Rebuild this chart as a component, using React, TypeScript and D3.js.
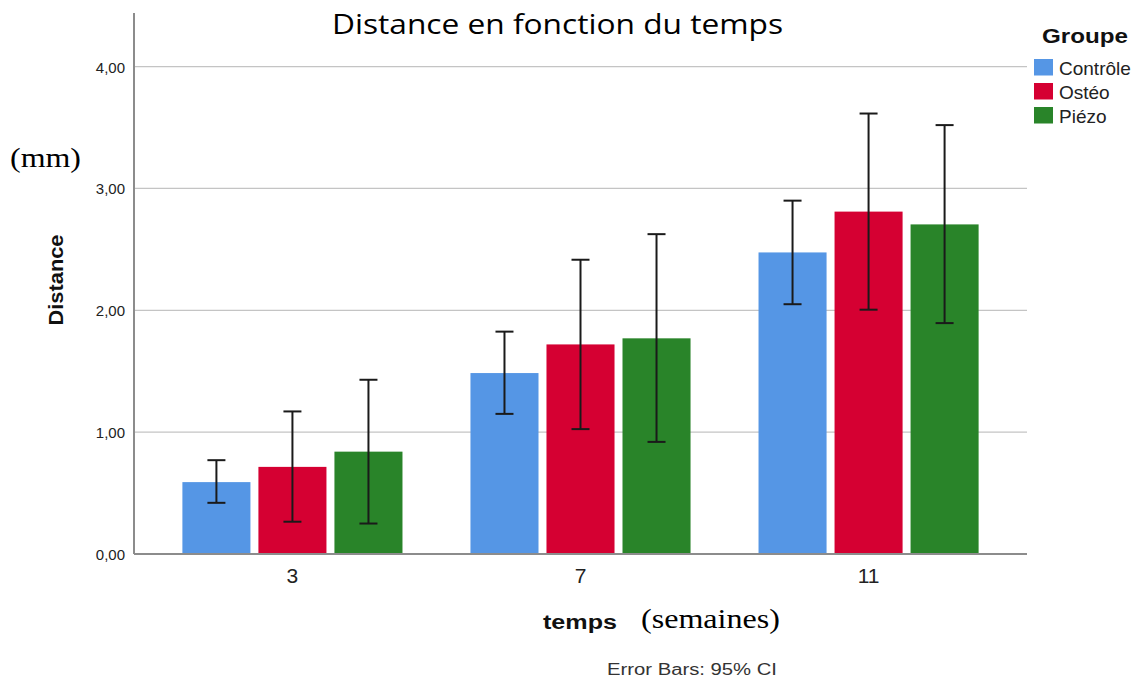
import React from "react";
import { scaleLinear, scaleBand } from "d3";

// data (mean distance in mm, 95% CI bounds)
const weeks = ["3", "7", "11"];
const groups = ["Contrôle", "Ostéo", "Piézo"];
const groupColors = ["#5596e5", "#d50032", "#298429"];
const means = [
  [0.59, 0.715, 0.84],
  [1.485, 1.72, 1.77],
  [2.475, 2.81, 2.705],
];
const ciLow = [
  [0.42, 0.265, 0.25],
  [1.15, 1.025, 0.92],
  [2.05, 2.005, 1.895],
];
const ciHigh = [
  [0.77, 1.17, 1.43],
  [1.825, 2.415, 2.625],
  [2.9, 3.615, 3.52],
];
const yTicks = [0, 1, 2, 3, 4];

const W = 1141;
const H = 681;
const left = 134;
const right = 1027;
const top = 13;
const bottom = 554;

const sans = "'Liberation Sans', Arial, sans-serif";
const serif = "'Liberation Serif', 'Times New Roman', serif";

const App = () => {
  const y = scaleLinear().domain([0, 4.44]).range([bottom, top]);
  const x = scaleBand().domain(weeks).range([left, right]).paddingInner(0).paddingOuter(0.05);
  const bw = x.bandwidth();
  // bars fill the middle ~76% of each category band
  const inner = scaleBand()
    .domain(groups)
    .range([bw * 0.118, bw * 0.882])
    .paddingInner(0.105)
    .paddingOuter(0);

  const fmt = (v: number) => v.toFixed(2).replace(".", ",");
  const capHalf = 9;

  return (
    <svg width={W} height={H} style={{ display: "block", position: "absolute", left: 0, top: 0, background: "#fff" }}>
      {/* gridlines */}
      <g>
        {yTicks.slice(1).map((t) => (
          <line key={t} x1={left} x2={right} y1={y(t)} y2={y(t)} stroke="#c4c4c4" strokeWidth={1.2} />
        ))}
      </g>

      {/* bars */}
      <g>
        {weeks.map((wk, i) =>
          groups.map((g, j) => {
            const bx = (x(wk) ?? 0) + (inner(g) ?? 0);
            return (
              <rect
                key={wk + g}
                x={bx}
                y={y(means[i][j])}
                width={inner.bandwidth()}
                height={bottom - y(means[i][j])}
                fill={groupColors[j]}
              />
            );
          })
        )}
      </g>

      {/* error bars */}
      <g stroke="#1a1a1a" strokeWidth={2}>
        {weeks.map((wk, i) =>
          groups.map((g, j) => {
            const cx = (x(wk) ?? 0) + (inner(g) ?? 0) + inner.bandwidth() / 2;
            return (
              <g key={wk + g}>
                <line x1={cx} x2={cx} y1={y(ciHigh[i][j])} y2={y(ciLow[i][j])} />
                <line x1={cx - capHalf} x2={cx + capHalf} y1={y(ciHigh[i][j])} y2={y(ciHigh[i][j])} />
                <line x1={cx - capHalf} x2={cx + capHalf} y1={y(ciLow[i][j])} y2={y(ciLow[i][j])} />
              </g>
            );
          })
        )}
      </g>

      {/* axes */}
      <line x1={left} x2={left} y1={top} y2={bottom} stroke="#8c8c8c" strokeWidth={2} />
      <line x1={left} x2={right} y1={bottom} y2={bottom} stroke="#8c8c8c" strokeWidth={2} />

      {yTicks.map((t) => (
        <text key={t} x={125} y={y(t) + 6} textAnchor="end" fontFamily={sans} fontSize={15} fill="#222">
          {fmt(t)}
        </text>
      ))}
      {weeks.map((wk) => (
        <text
          key={wk}
          x={(x(wk) ?? 0) + bw / 2}
          y={583}
          textAnchor="middle"
          fontFamily={sans}
          fontSize={21}
          fill="#222"
        >
          {wk}
        </text>
      ))}

      {/* titles */}
      <text
        x={332}
        y={34}
        fontFamily="'Open Sans', sans-serif"
        fontSize={28}
        fill="#000"
        textLength={451}
        lengthAdjust="spacingAndGlyphs"
      >
        Distance en fonction du temps
      </text>
      <text
        transform="translate(63, 280) rotate(-90)"
        x={-45.5}
        fontFamily={sans}
        fontSize={21}
        fontWeight="bold"
        fill="#111"
        textLength={91}
        lengthAdjust="spacingAndGlyphs"
      >
        Distance
      </text>
      <text x={10} y={167} fontFamily={serif} fontSize={27} fill="#000" textLength={71} lengthAdjust="spacingAndGlyphs">
        (mm)
      </text>
      <text
        x={543}
        y={629}
        fontFamily={sans}
        fontSize={20}
        fontWeight="bold"
        fill="#111"
        textLength={74}
        lengthAdjust="spacingAndGlyphs"
      >
        temps
      </text>
      <text x={641} y={628} fontFamily={serif} fontSize={28} fill="#000" textLength={139} lengthAdjust="spacingAndGlyphs">
        (semaines)
      </text>
      <text
        x={607}
        y={675}
        fontFamily={sans}
        fontSize={16}
        fill="#333"
        textLength={170}
        lengthAdjust="spacingAndGlyphs"
      >
        Error Bars: 95% CI
      </text>

      {/* legend */}
      <text
        x={1042}
        y={43}
        fontFamily={sans}
        fontSize={21}
        fontWeight="bold"
        fill="#111"
        textLength={86}
        lengthAdjust="spacingAndGlyphs"
      >
        Groupe
      </text>
      {groups.map((g, j) => (
        <g key={g} transform={`translate(1034, ${59 + j * 24})`}>
          <rect width={19} height={16.5} fill={groupColors[j]} />
          <text x={25} y={16} fontFamily={sans} fontSize={19} fill="#222">
            {g}
          </text>
        </g>
      ))}
    </svg>
  );
};

export default App;
